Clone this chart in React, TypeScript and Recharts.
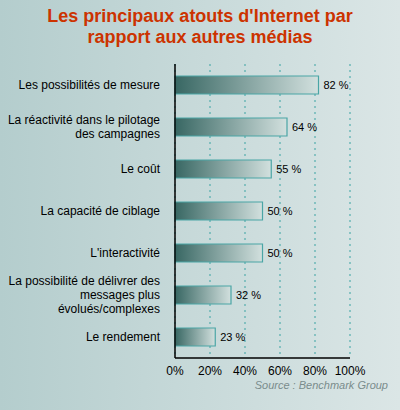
import { BarChart, Bar, XAxis, YAxis, CartesianGrid, LabelList } from "recharts";

const categories = [
  "Les possibilités de mesure",
  "La réactivité dans le pilotage\ndes campagnes",
  "Le coût",
  "La capacité de ciblage",
  "L'interactivité",
  "La possibilité de délivrer des\nmessages plus\névolués/complexes",
  "Le rendement",
];
const values = [82, 64, 55, 50, 50, 32, 23];
const xTicks = [0, 20, 40, 60, 80, 100];

const data = categories.map((name, i) => ({ name, value: values[i] }));

const FONT = "'Liberation Sans', Arial, sans-serif";

function CategoryTick(props: any) {
  const { x, y, payload } = props;
  const lines = String(payload.value).split("\n");
  const lh = 14;
  const start = y - ((lines.length - 1) * lh) / 2;
  return (
    <text x={x - 7} y={start} textAnchor="end" fontFamily={FONT} fontSize={12} fill="#000">
      {lines.map((l, i) => (
        <tspan key={i} x={x - 7} y={start + i * lh} dy="0.35em">
          {l}
        </tspan>
      ))}
    </text>
  );
}

export default function App() {
  return (
    <div
      style={{
        position: "absolute",
        left: 0,
        top: 0,
        width: 400,
        height: 410,
        background: "linear-gradient(to right, #b4cdcd, #dbe6e6)",
        fontFamily: FONT,
      }}
    >
      <div
        style={{
          position: "absolute",
          top: 6,
          left: 0,
          width: 400,
          textAlign: "center",
          color: "#cc3300",
          fontWeight: "bold",
          fontSize: 18,
          lineHeight: "21px",
        }}
      >
        Les principaux atouts d'Internet par
        <br />
        rapport aux autres médias
      </div>
      <BarChart
        width={400}
        height={410}
        data={data}
        layout="vertical"
        margin={{ top: 64, right: 50, bottom: 22, left: 0 }}
        barCategoryGap={12}
      >
        <defs>
          <linearGradient id="barGrad" x1="0" y1="0" x2="1" y2="0">
            <stop offset="0%" stopColor="#386763" />
            <stop offset="100%" stopColor="#d2e0de" />
          </linearGradient>
        </defs>
        <CartesianGrid horizontal={false} stroke="#3aa3a3" strokeDasharray="2 4" />
        <XAxis
          type="number"
          domain={[0, 100]}
          ticks={xTicks}
          tickFormatter={(v: number) => `${v}%`}
          axisLine={{ stroke: "#000", strokeWidth: 1.5 }}
          tickLine={false}
          tick={{ fill: "#000", fontSize: 12, fontFamily: FONT }}
          interval={0}
          height={30}
        />
        <YAxis
          type="category"
          dataKey="name"
          width={175}
          axisLine={{ stroke: "#000", strokeWidth: 1.5 }}
          tickLine={false}
          tick={<CategoryTick />}
          interval={0}
        />
        <Bar dataKey="value" barSize={18} fill="url(#barGrad)" stroke="#4aa5a5" strokeWidth={1.2} isAnimationActive={false}>
          <LabelList
            dataKey="value"
            position="right"
            offset={5}
            formatter={(v: any) => `${v} %`}
            style={{ fill: "#000", fontSize: 11, fontFamily: FONT }}
          />
        </Bar>
      </BarChart>
      <div
        style={{
          position: "absolute",
          right: 12,
          top: 379,
          fontSize: 11,
          fontStyle: "italic",
          color: "#7a8c8c",
        }}
      >
        Source : Benchmark Group
      </div>
    </div>
  );
}
